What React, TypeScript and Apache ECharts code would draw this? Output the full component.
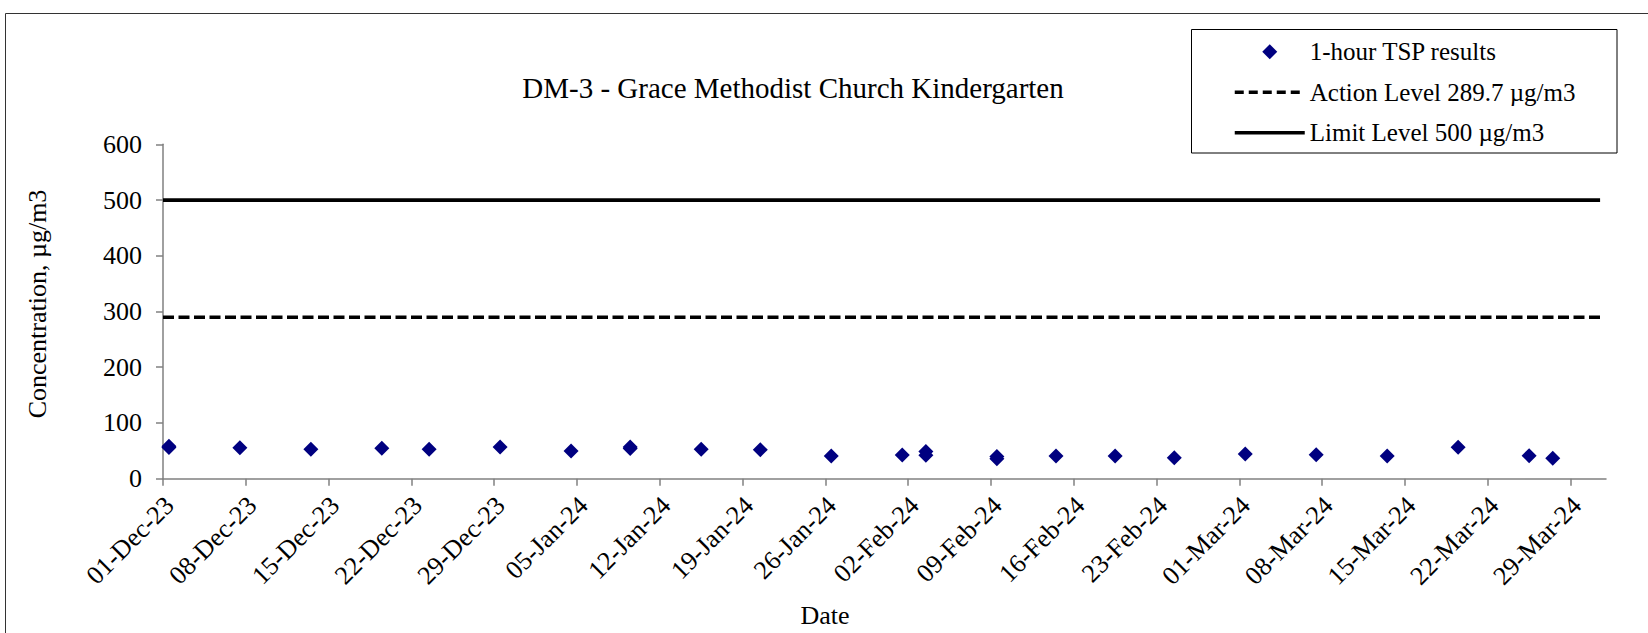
import React, { useEffect, useRef } from "react";
import * as echarts from "echarts";

const CHART_TITLE = "DM-3 - Grace Methodist Church Kindergarten";
const X_AXIS_TITLE = "Date";
const Y_AXIS_TITLE = "Concentration, µg/m3";
const SERIES_TSP = "1-hour TSP results";
const SERIES_ACTION = "Action Level 289.7 µg/m3";
const SERIES_LIMIT = "Limit Level 500 µg/m3";

const ACTION_LEVEL = 289.7;
const LIMIT_LEVEL = 500;

const AXIS_START = "2023-12-01";
const AXIS_END = "2024-04-01";
const LEVEL_LINE_START = "2023-12-01";
const LEVEL_LINE_END = "2024-03-31T12:00";

const X_TICK_DATES = [
  "2023-12-01", "2023-12-08", "2023-12-15", "2023-12-22", "2023-12-29",
  "2024-01-05", "2024-01-12", "2024-01-19", "2024-01-26",
  "2024-02-02", "2024-02-09", "2024-02-16", "2024-02-23",
  "2024-03-01", "2024-03-08", "2024-03-15", "2024-03-22", "2024-03-29",
];
const Y_TICKS = [0, 100, 200, 300, 400, 500, 600];

const SAMPLE_TIMES = [
  "2023-12-01T12:00", "2023-12-01T12:00", "2023-12-07T12:00", "2023-12-13T12:00",
  "2023-12-19T12:00", "2023-12-23T12:00", "2023-12-29T12:00", "2024-01-04T12:00",
  "2024-01-09T12:00", "2024-01-09T12:00", "2024-01-15T12:00", "2024-01-20T12:00",
  "2024-01-26T12:00", "2024-02-01T12:00", "2024-02-03T12:00", "2024-02-03T12:00",
  "2024-02-09T12:00", "2024-02-09T12:00", "2024-02-14T12:00", "2024-02-19T12:00",
  "2024-02-24T12:00", "2024-03-01T12:00", "2024-03-07T12:00", "2024-03-13T12:00",
  "2024-03-19T12:00", "2024-03-25T12:00", "2024-03-27T12:00",
];
const TSP_VALUES = [
  58, 56, 55.6, 52.8,
  54.5, 52.8, 56.9, 49.7,
  57, 54, 52.8, 52.0,
  40.7, 42.5, 49, 42,
  40, 36, 40.7, 40.7,
  37.7, 44.3, 43.1, 40.7,
  56.3, 41.3, 36.6,
];

const MONTHS = ["Jan", "Feb", "Mar", "Apr", "May", "Jun", "Jul", "Aug", "Sep", "Oct", "Nov", "Dec"];
const DAY_MS = 86400000;
const DIAMOND_ICON = "path://M0,-1L1,0L0,1L-1,0Z";

function toUTC(s: string): number {
  const [d, t] = s.split("T");
  const [y, m, dd] = d.split("-").map(Number);
  let h = 0;
  let mi = 0;
  if (t) {
    const parts = t.split(":").map(Number);
    h = parts[0];
    mi = parts[1] || 0;
  }
  return Date.UTC(y, m - 1, dd, h, mi);
}
const ORIGIN = toUTC(AXIS_START);
function dayOffset(s: string): number {
  return (toUTC(s) - ORIGIN) / DAY_MS;
}
function fmtDay(v: number): string {
  const dt = new Date(ORIGIN + Math.round(v * DAY_MS));
  const dd = String(dt.getUTCDate()).padStart(2, "0");
  const yy = String(dt.getUTCFullYear() % 100).padStart(2, "0");
  return `${dd}-${MONTHS[dt.getUTCMonth()]}-${yy}`;
}

const FONT = "'Liberation Serif', 'Times New Roman', serif";

export default function App() {
  const ref = useRef<HTMLDivElement>(null);

  useEffect(() => {
    document.body.style.margin = "0";
    if (!ref.current) return;
    const chart = echarts.init(ref.current, undefined, { renderer: "svg" });

    const xTicks = X_TICK_DATES.map(dayOffset);
    const xMax = dayOffset(AXIS_END);
    const tspData = SAMPLE_TIMES.map((t, i) => [dayOffset(t), TSP_VALUES[i]]);
    const lineX0 = dayOffset(LEVEL_LINE_START);
    const lineX1 = dayOffset(LEVEL_LINE_END);

    chart.setOption({
      animation: false,
      backgroundColor: "#ffffff",
      grid: { left: 163, top: 144.3, right: 42, bottom: 154.3, containLabel: false },
      legend: {
        orient: "vertical",
        left: 1233,
        top: 38.7,
        padding: 0,
        itemWidth: 70,
        itemHeight: 15,
        itemGap: 14.5,
        symbolKeepAspect: true,
        textStyle: { fontFamily: FONT, fontSize: 25, color: "#000", lineHeight: 26 },
        data: [
          { name: SERIES_TSP, icon: DIAMOND_ICON, itemStyle: { color: "#000080", opacity: 1 } },
          { name: SERIES_ACTION, itemStyle: { opacity: 0 }, lineStyle: { width: 3.5, color: "#000", type: [9, 5] } },
          { name: SERIES_LIMIT, itemStyle: { opacity: 0 }, lineStyle: { width: 3.5, color: "#000", type: "solid" } },
        ],
      },
      xAxis: {
        type: "value",
        min: 0,
        max: xMax,
        interval: 7,
        splitLine: { show: false },
        axisLine: { show: true, onZero: false, lineStyle: { color: "#808080", width: 1.5 } },
        axisTick: { show: true, customValues: xTicks, length: 7, lineStyle: { color: "#808080", width: 1.5 } },
        axisLabel: {
          customValues: xTicks,
          rotate: 45,
          margin: 16,
          verticalAlign: "top",
          lineHeight: 18,
          fontFamily: FONT,
          fontSize: 26,
          color: "#000",
          formatter: (v: number) => fmtDay(v),
        },
      },
      yAxis: {
        type: "value",
        min: Y_TICKS[0],
        max: Y_TICKS[Y_TICKS.length - 1],
        interval: Y_TICKS[1] - Y_TICKS[0],
        splitLine: { show: false },
        axisLine: { show: true, lineStyle: { color: "#808080", width: 1.5 } },
        axisTick: { show: true, length: 7, lineStyle: { color: "#808080", width: 1.5 } },
        axisLabel: { margin: 21, fontFamily: FONT, fontSize: 26, color: "#000" },
      },
      series: [
        {
          name: SERIES_LIMIT,
          type: "line",
          symbol: "none",
          data: [[lineX0, LIMIT_LEVEL], [lineX1, LIMIT_LEVEL]],
          lineStyle: { color: "#000", width: 3.8, type: "solid" },
          itemStyle: { color: "#000" },
          z: 2,
        },
        {
          name: SERIES_ACTION,
          type: "line",
          symbol: "none",
          data: [[lineX0, ACTION_LEVEL], [lineX1, ACTION_LEVEL]],
          lineStyle: { color: "#000", width: 3.5, type: [11, 4.5] },
          itemStyle: { color: "#000" },
          z: 2,
        },
        {
          name: SERIES_TSP,
          type: "scatter",
          symbol: "diamond",
          symbolSize: 15,
          itemStyle: { color: "#000080", opacity: 1 },
          data: tspData,
          z: 3,
        },
      ],
      graphic: [
        {
          type: "rect",
          z: -10,
          silent: true,
          shape: { x: 5.5, y: 13.5, width: 1700, height: 700 },
          style: { fill: "#fff", stroke: "#333", lineWidth: 1 },
        },
        {
          type: "rect",
          z: -5,
          silent: true,
          shape: { x: 1191.5, y: 29.5, width: 425.5, height: 123.5 },
          style: { fill: "#fff", stroke: "#000", lineWidth: 1 },
        },
        {
          type: "text",
          x: 793,
          y: 88,
          style: { text: CHART_TITLE, fontFamily: FONT, fontSize: 29, fill: "#000", align: "center", verticalAlign: "middle" },
        },
        {
          type: "text",
          x: 825,
          y: 615,
          style: { text: X_AXIS_TITLE, fontFamily: FONT, fontSize: 26, fill: "#000", align: "center", verticalAlign: "middle" },
        },
        {
          type: "text",
          x: 37,
          y: 304,
          rotation: Math.PI / 2,
          style: { text: Y_AXIS_TITLE, fontFamily: FONT, fontSize: 26, fill: "#000", align: "center", verticalAlign: "middle" },
        },
      ],
    });

    return () => chart.dispose();
  }, []);

  return <div ref={ref} style={{ width: 1648, height: 633 }} />;
}
